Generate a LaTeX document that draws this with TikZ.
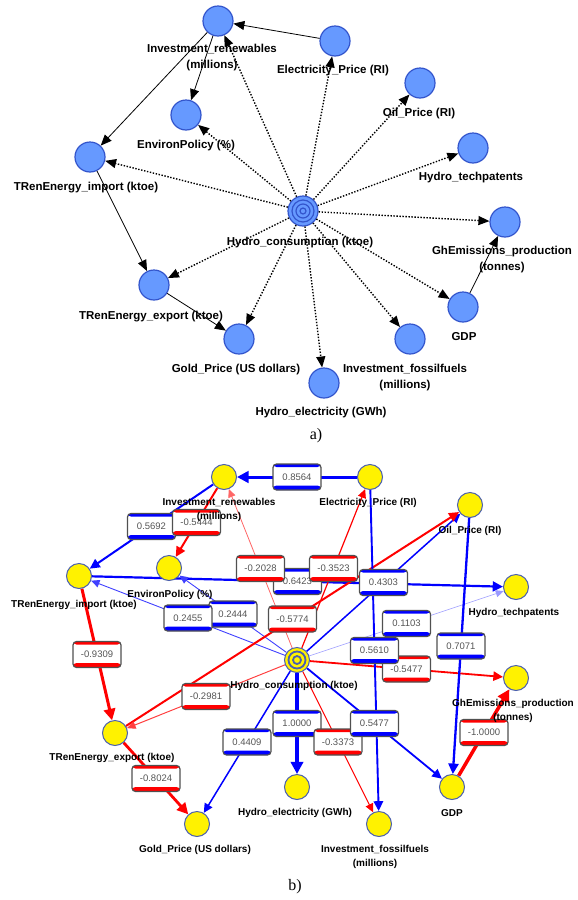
\documentclass[tikz,border=0pt]{standalone}
\usepackage{fontspec}
\setmainfont{Liberation Serif}
\setsansfont{Liberation Sans}
\usetikzlibrary{arrows.meta}
\definecolor{nodefillA}{RGB}{102,153,255}
\definecolor{nodedrawA}{RGB}{51,85,204}
\definecolor{nodedrawB}{RGB}{74,95,176}
\definecolor{boxgray}{RGB}{80,80,80}
\definecolor{valgray}{RGB}{85,85,85}
\pgfdeclarelayer{edges}
\pgfsetlayers{edges,main}

\begin{document}
\begin{tikzpicture}[x=1pt, y=-1pt,
    varA/.style={circle, draw=nodedrawA, fill=nodefillA, line width=1.2pt, minimum size=30pt, inner sep=0pt},
    varB/.style={circle, draw=nodedrawB, fill=yellow, line width=1pt, minimum size=25pt, inner sep=0pt},
    txtA/.style={font=\sffamily\bfseries\fontsize{11.5}{16}\selectfont, align=center, inner sep=0pt},
    txtB/.style={font=\sffamily\bfseries\fontsize{10}{14}\selectfont, align=center, inner sep=0pt},
    arcA/.style={draw=black, line width=0.8pt, -{Triangle[length=11pt,width=9pt]}},
    dotA/.style={arcA, line width=1.4pt, dash pattern=on 1.4pt off 1.6pt},
    posArc/.style={draw=blue, line width=#1, -{Triangle[length=7pt 1.5,width=6pt 1.8]}},
    negArc/.style={draw=red, line width=#1, -{Triangle[length=7pt 1.5,width=6pt 1.8]}},
    vbox/.style={draw=boxgray, fill=white, rounded corners=3.5pt, line width=1.2pt,
      minimum width=48pt, minimum height=26pt, inner sep=0pt, text=valgray,
      font=\sffamily\fontsize{9.5}{10}\selectfont,
      path picture={
        \fill[#1] (path picture bounding box.north west) rectangle ([yshift=-3pt]path picture bounding box.north east);
        \fill[#1] ([yshift=4.5pt]path picture bounding box.south west) rectangle (path picture bounding box.south east);}},
    posbox/.style={vbox=blue},
    negbox/.style={vbox=red},
    capt/.style={font=\rmfamily\fontsize{16}{18}\selectfont, inner sep=0pt}]
  \useasboundingbox (0,0) rectangle (578,900);

  % a) structure
  \node[varA] (invRa) at (218,21) {};
  \node[varA] (elecPa) at (335,41) {};
  \node[varA] (oilPa) at (420,83) {};
  \node[varA] (envPa) at (186,115) {};
  \node[varA] (hydTa) at (473,148) {};
  \node[varA] (tImpa) at (90,157) {};
  \node[varA] (hydCa) at (303,211) {};
  \node[varA] (ghEa) at (505,222) {};
  \node[varA] (tExpa) at (154,285) {};
  \node[varA] (gdpa) at (463,307) {};
  \node[varA] (goldPa) at (239,339) {};
  \node[varA] (invFa) at (410,339) {};
  \node[varA] (hydEa) at (324,383) {};
  \draw[nodedrawA, line width=1.2pt] (hydCa.center) circle[radius=11] circle[radius=7] circle[radius=3];

  \draw[dotA] (hydCa) -- (invRa);
  \draw[dotA] (hydCa) -- (elecPa);
  \draw[dotA] (hydCa) -- (oilPa);
  \draw[dotA] (hydCa) -- (envPa);
  \draw[dotA] (hydCa) -- (hydTa);
  \draw[dotA] (hydCa) -- (tImpa);
  \draw[dotA] (hydCa) -- (ghEa);
  \draw[dotA] (hydCa) -- (tExpa);
  \draw[dotA] (hydCa) -- (gdpa);
  \draw[dotA] (hydCa) -- (goldPa);
  \draw[dotA] (hydCa) -- (invFa);
  \draw[dotA] (hydCa) -- (hydEa);
  \draw[arcA] (elecPa) -- (invRa);
  \draw[arcA] (invRa) -- (tImpa);
  \draw[arcA] (invRa) -- (envPa);
  \draw[arcA] (tImpa) -- (tExpa);
  \draw[arcA] (tExpa) -- (goldPa);
  \draw[arcA] (gdpa) -- (ghEa);

  \node[txtA] (invRa-t) at (212,58) {Investment\_renewables\\(millions)};
  \node[txtA] (elecPa-t) at (333,71) {Electricity\_Price (RI)};
  \node[txtA] (oilPa-t) at (419,114) {Oil\_Price (RI)};
  \node[txtA] (envPa-t) at (186,146) {EnvironPolicy (\%)};
  \node[txtA] (hydTa-t) at (471,178) {Hydro\_techpatents};
  \node[txtA] (tImpa-t) at (86,188) {TRenEnergy\_import (ktoe)};
  \node[txtA] (hydCa-t) at (300,243) {Hydro\_consumption (ktoe)};
  \node[txtA] (ghEa-t) at (502,260) {GhEmissions\_production\\(tonnes)};
  \node[txtA] (tExpa-t) at (151,317) {TRenEnergy\_export (ktoe)};
  \node[txtA] (gdpa-t) at (464,337) {GDP};
  \node[txtA] (goldPa-t) at (236,370) {Gold\_Price (US dollars)};
  \node[txtA] (invFa-t) at (405,378) {Investment\_fossilfuels\\(millions)};
  \node[txtA] (hydEa-t) at (321,413) {Hydro\_electricity (GWh)};
  \node[capt] (capA) at (316,436) {a)};

  % b) correlations
  \node[varB] (invRb) at (224,477) {};
  \node[varB] (elecPb) at (370,477) {};
  \node[varB] (oilPb) at (470,505) {};
  \node[varB] (envPb) at (169,568) {};
  \node[varB] (tImpb) at (79,576) {};
  \node[varB] (hydTb) at (516,587) {};
  \node[varB] (hydCb) at (297,660) {};
  \node[varB] (ghEb) at (516,678) {};
  \node[varB] (tExpb) at (115,733) {};
  \node[varB] (gdpb) at (452,787) {};
  \node[varB] (hydEb) at (297,787) {};
  \node[varB] (goldPb) at (197,824) {};
  \node[varB] (invFb) at (379,824) {};
  \draw[nodedrawB, line width=1.8pt] (hydCb.center) circle[radius=8.5] circle[radius=4];

  \begin{pgfonlayer}{edges}
    \draw[posArc=3pt] (elecPb) -- coordinate[midway] (w1) (invRb);
    \draw[posArc=2pt] (invRb) -- coordinate[midway] (w2) (tImpb);
    \draw[negArc=2pt] (invRb) -- coordinate[midway] (w3) (envPb);
    \draw[posArc=2.2pt] (tImpb) -- coordinate[midway] (w4) (hydTb);
    \draw[negArc=0.8pt, draw=red!60] (hydCb) -- coordinate[midway] (w5) (invRb);
    \draw[negArc=1.2pt] (hydCb) -- coordinate[midway] (w6) (elecPb);
    \draw[posArc=1.5pt] (hydCb) -- coordinate[midway] (w7) (oilPb);
    \draw[posArc=0.9pt, draw=blue!75] (hydCb) -- coordinate[midway] (w8) (envPb);
    \draw[posArc=0.9pt, draw=blue!75] (hydCb) -- coordinate[midway] (w9) (tImpb);
    \draw[negArc=2pt] (tExpb) -- coordinate[midway] (w10) (oilPb);
    \draw[posArc=0.6pt, draw=blue!40] (hydCb) -- coordinate[midway] (w11) (hydTb);
    \draw[negArc=1.8pt] (hydCb) -- coordinate[midway] (w12) (ghEb);
    \draw[posArc=1.9pt] (elecPb) -- coordinate[midway] (w13) (invFb);
    \draw[negArc=3pt] (tImpb) -- coordinate[midway] (w14) (tExpb);
    \draw[negArc=1pt, draw=red!75] (hydCb) -- coordinate[midway] (w15) (tExpb);
    \draw[posArc=3.5pt] (hydCb) -- coordinate[midway] (w16) (hydEb);
    \draw[negArc=1.1pt] (hydCb) -- coordinate[midway] (w17) (invFb);
    \draw[posArc=1.8pt] (hydCb) -- coordinate[midway] (w18) (gdpb);
    \draw[posArc=1.5pt] (hydCb) -- coordinate[midway] (w19) (goldPb);
    \draw[posArc=2.3pt] (oilPb) -- coordinate[midway] (w20) (gdpb);
    \draw[negArc=3.5pt] (gdpb) -- coordinate[midway] (w21) (ghEb);
    \draw[negArc=2.8pt] (tExpb) -- coordinate[midway] (w22) (goldPb);
  \end{pgfonlayer}

  \node[posbox] (v1) at (w1) {0.8564};
  \node[posbox] (v2) at (w2) {0.5692};
  \node[negbox] (v3) at (w3) {-0.5444};
  \node[posbox] (v4) at (w4) {0.6423};
  \node[negbox] (v5) at (w5) {-0.2028};
  \node[negbox] (v6) at (w6) {-0.3523};
  \node[posbox] (v7) at (w7) {0.4303};
  \node[posbox] (v8) at (w8) {0.2444};
  \node[posbox] (v9) at (w9) {0.2455};
  \node[negbox] (v10) at (w10) {-0.5774};
  \node[posbox] (v11) at (w11) {0.1103};
  \node[negbox] (v12) at (w12) {-0.5477};
  \node[posbox] (v13) at (w13) {0.5610};
  \node[negbox] (v14) at (w14) {-0.9309};
  \node[negbox] (v15) at (w15) {-0.2981};
  \node[posbox] (v16) at (w16) {1.0000};
  \node[negbox] (v17) at (w17) {-0.3373};
  \node[posbox] (v18) at (w18) {0.5477};
  \node[posbox] (v19) at (w19) {0.4409};
  \node[posbox] (v20) at (w20) {0.7071};
  \node[negbox] (v21) at (w21) {-1.0000};
  \node[negbox] (v22) at (w22) {-0.8024};

  \node[txtB] (invRb-t) at (219,510) {Investment\_renewables\\(millions)};
  \node[txtB] (elecPb-t) at (368,503) {Electricity\_Price (RI)};
  \node[txtB] (oilPb-t) at (470,531) {Oil\_Price (RI)};
  \node[txtB] (envPb-t) at (170,595) {EnvironPolicy (\%)};
  \node[txtB] (tImpb-t) at (74,605) {TRenEnergy\_import (ktoe)};
  \node[txtB] (hydTb-t) at (514,613) {Hydro\_techpatents};
  \node[txtB] (hydCb-t) at (294,686) {Hydro\_consumption (ktoe)};
  \node[txtB] (ghEb-t) at (513,711) {GhEmissions\_production\\(tonnes)};
  \node[txtB] (tExpb-t) at (112,758) {TRenEnergy\_export (ktoe)};
  \node[txtB] (gdpb-t) at (452,813) {GDP};
  \node[txtB] (hydEb-t) at (295,813) {Hydro\_electricity (GWh)};
  \node[txtB] (goldPb-t) at (195,850) {Gold\_Price (US dollars)};
  \node[txtB] (invFb-t) at (375,857) {Investment\_fossilfuels\\(millions)};
  \node[capt] (capB) at (295,887) {b)};
\end{tikzpicture}
\end{document}
